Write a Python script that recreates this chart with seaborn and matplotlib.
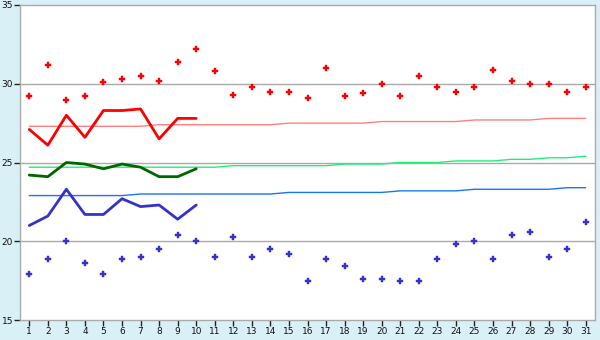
import matplotlib
matplotlib.use("Agg")
import matplotlib.pyplot as plt
import seaborn as sns
import pandas as pd

days = list(range(1, 32))
max_pts = [29.2, 31.2, 29.0, 29.2, 30.1, 30.3, 30.5, 30.2, 31.4, 32.2,
           30.8, 29.3, 29.8, 29.5, 29.5, 29.1, 31.0, 29.2, 29.4, 30.0,
           29.2, 30.5, 29.8, 29.5, 29.8, 30.9, 30.2, 30.0, 30.0, 29.5, 29.8]
min_pts = [17.9, 18.9, 20.0, 18.6, 17.9, 18.9, 19.0, 19.5, 20.4, 20.0,
           19.0, 20.3, 19.0, 19.5, 19.2, 17.5, 18.9, 18.4, 17.6, 17.6,
           17.5, 17.5, 18.9, 19.8, 20.0, 18.9, 20.4, 20.6, 19.0, 19.5, 21.2]
obs_days = list(range(1, 11))
obs_max = [27.1, 26.1, 28.0, 26.6, 28.3, 28.3, 28.4, 26.5, 27.8, 27.8]
obs_mean = [24.2, 24.1, 25.0, 24.9, 24.6, 24.9, 24.7, 24.1, 24.1, 24.6]
obs_min = [21.0, 21.6, 23.3, 21.7, 21.7, 22.7, 22.2, 22.3, 21.4, 22.3]
norm_max = [27.3] * 7 + [27.4] * 7 + [27.5] * 5 + [27.6] * 5 + [27.7] * 4 + [27.8] * 3
norm_mean = [24.7] * 11 + [24.8] * 6 + [24.9] * 3 + [25.0] * 3 + [25.1] * 3 + [25.2] * 2 + [25.3] * 2 + [25.4]
norm_min = [22.9] * 6 + [23.0] * 8 + [23.1] * 6 + [23.2] * 4 + [23.3] * 5 + [23.4] * 2

sns.set_style("white")
plt.rcParams['font.family'] = ['DejaVu Sans']

fig = plt.figure(figsize=(6, 3.4), dpi=100, facecolor="#daf0f7")
ax = fig.add_axes([20 / 600, 20 / 340, 575 / 600, 315 / 340])
ax.set_facecolor("white")

for v in (20, 25, 30):
    ax.axhline(v, color="#aaaaaa", lw=1, zorder=0)

dfn = pd.DataFrame({"day": days, "nmax": norm_max, "nmean": norm_mean, "nmin": norm_min})
sns.lineplot(data=dfn, x="day", y="nmax", ax=ax, color="#ff8080", lw=1)
sns.lineplot(data=dfn, x="day", y="nmean", ax=ax, color="#22ee77", lw=1)
sns.lineplot(data=dfn, x="day", y="nmin", ax=ax, color="#1a75ee", lw=1)

dfo = pd.DataFrame({"day": obs_days, "max": obs_max, "mean": obs_mean, "min": obs_min})
sns.lineplot(data=dfo, x="day", y="max", ax=ax, color="#ff0000", lw=2)
sns.lineplot(data=dfo, x="day", y="mean", ax=ax, color="#006600", lw=2)
sns.lineplot(data=dfo, x="day", y="min", ax=ax, color="#3333cc", lw=2)

dfp = pd.DataFrame({"day": days, "max": max_pts, "min": min_pts})
sns.scatterplot(data=dfp, x="day", y="max", ax=ax, color="#ff0000", marker="P", s=20, linewidth=0.3, edgecolor="#ff0000")
sns.scatterplot(data=dfp, x="day", y="min", ax=ax, color="#3333cc", marker="P", s=20, linewidth=0.3, edgecolor="#3333cc")

ax.set_xlim(0.5, 31.5)
ax.set_ylim(15, 35)
ax.set_xticks(days)
ax.set_yticks([15, 20, 25, 30, 35])
ax.set_xlabel("")
ax.set_ylabel("")
for s in ax.spines.values():
    s.set_color("#aaaaaa")
    s.set_linewidth(1)
ax.tick_params(axis="both", which="both", length=4, width=1, color="#222222",
               labelsize=6.5, labelcolor="#111111", pad=1, direction="out",
               bottom=True, left=True)

fig.savefig("out.png", dpi=100, facecolor=fig.get_facecolor())
